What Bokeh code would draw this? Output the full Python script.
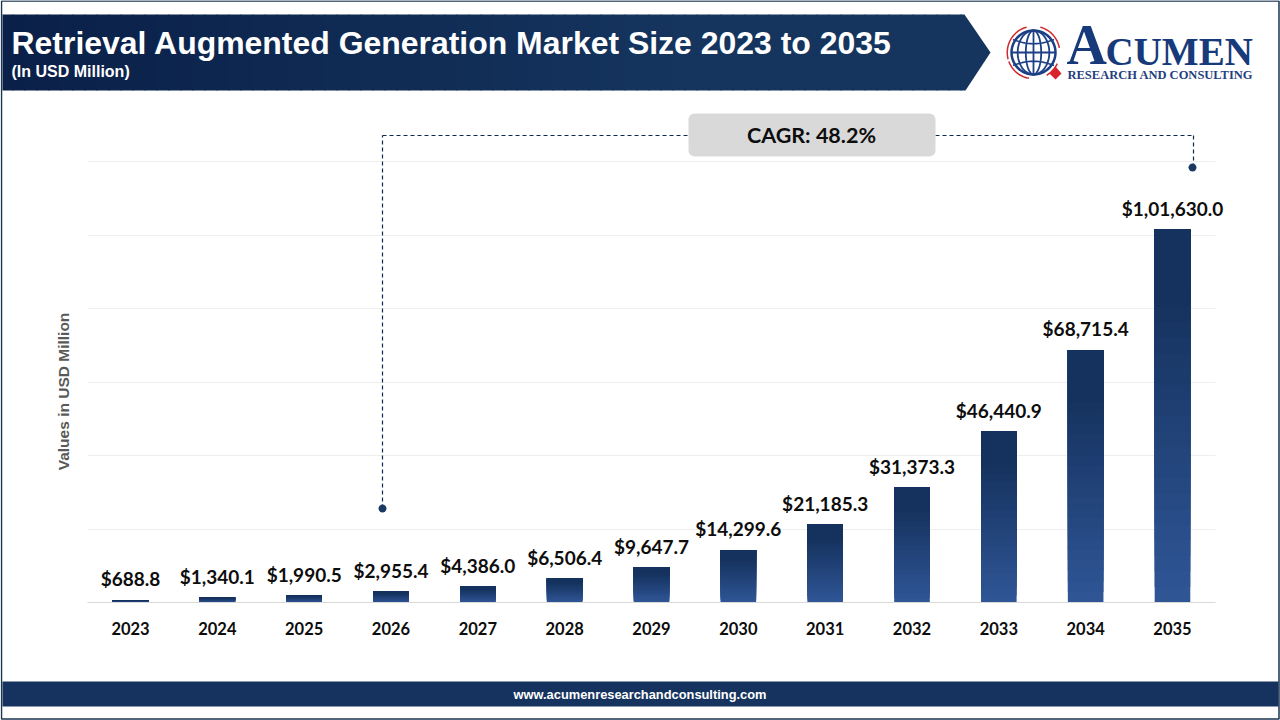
import math
from bokeh.plotting import figure
from bokeh.embed import file_html
from bokeh.resources import INLINE
from bokeh.models import (Range1d, FixedTicker, Label, BoxAnnotation, PolyAnnotation, Arrow,
                          ColumnDataSource)

years = ["2023","2024","2025","2026","2027","2028","2029","2030","2031","2032","2033","2034","2035"]
values = [688.8,1340.1,1990.5,2955.4,4386.0,6506.4,9647.7,14299.6,21185.3,31373.3,46440.9,68715.4,101630.0]
value_labels = ["$688.8","$1,340.1","$1,990.5","$2,955.4","$4,386.0","$6,506.4","$9,647.7","$14,299.6",
                "$21,185.3","$31,373.3","$46,440.9","$68,715.4","$1,01,630.0"]
y_ticks = [0,20000,40000,60000,80000,100000,120000]
title = "Retrieval Augmented Generation Market Size 2023 to 2035"
subtitle = "(In USD Million)"
y_title = "Values in USD Million"
cagr = "CAGR: 48.2%"
footer = "www.acumenresearchandconsulting.com"

NAVY = "#15335e"
W, H = 1280, 720
def lerp(c1, c2, t):
    a = [int(c1[i:i+2],16) for i in (1,3,5)]; b = [int(c2[i:i+2],16) for i in (1,3,5)]
    return "#%02x%02x%02x" % tuple(round(a[k]+(b[k]-a[k])*t) for k in range(3))

# The frame fills the whole page; the chart area is set by the ranges
PX_X0, PX_W = 86.6, 86.83
PX_Y0, PX_YS = 602.0, 441.0/120000
x_range = Range1d((0-PX_X0)/PX_W-0.5, (W-PX_X0)/PX_W-0.5)
y_range = Range1d((PX_Y0-H)/PX_YS, PX_Y0/PX_YS)

p = figure(width=W, height=H, output_backend="svg", toolbar_location=None,
           x_range=x_range, y_range=y_range,
           min_border=0, background_fill_color="white", border_fill_color="white", outline_line_color=None)
p.xgrid.visible = False

# axes
xa = p.xaxis[0]
xa.fixed_location = 0
xa.bounds = (-0.5,12.5)
xa.ticker = FixedTicker(ticks=list(range(len(years))))
xa.major_label_overrides = {i:y for i,y in enumerate(years)}
xa.major_tick_line_color = None
xa.minor_tick_line_color = None
xa.axis_line_color = "#d9d9d9"
xa.major_label_text_font = "Lato"
xa.major_label_text_font_style = "bold"
xa.major_label_text_font_size = "16.5px"
xa.major_label_text_color = "#0d0d0d"
xa.major_label_standoff = 13

ya = p.yaxis[0]
ya.fixed_location = -0.5
ya.bounds = (-5200,120000)
ya.ticker = FixedTicker(ticks=y_ticks)
ya.major_label_overrides = {v:"" for v in y_ticks}
ya.major_tick_line_color = None
ya.minor_tick_line_color = None
ya.axis_line_color = None
ya.axis_label = y_title
ya.axis_label_text_font = "Liberation Sans"
ya.axis_label_text_font_style = "bold"
ya.axis_label_text_font_size = "15.5px"
ya.axis_label_text_color = "#595959"
ya.axis_label_standoff = 10
yg = p.ygrid[0]
yg.cross_bounds = (-0.5,12.5)
yg.grid_line_color = "#eeeeee"

# bars with vertical gradient: nested slices from bottom to top of each bar
STEPS = 24
for s in range(STEPS):
    t = s/STEPS
    p.vbar(x=list(range(len(values))), width=0.41, bottom=[v*t for v in values], top=values,
           fill_color=lerp("#2f5595","#15325e",min(1,t*1.25)), line_color=None)

# value labels
src = ColumnDataSource(dict(x=list(range(len(values))), y=values, t=value_labels))
p.text(x="x", y="y", text="t", source=src, text_align="center", text_baseline="middle", y_offset=-21,
       text_font={"value":"Lato"}, text_font_style="bold", text_font_size="19px", text_color="#0d0d0d")

def box(l,t,r,b,fill,line=None,lw=1,**k):
    p.add_layout(BoxAnnotation(left=l,right=r,top=t,bottom=b,left_units="canvas",right_units="canvas",
        top_units="canvas",bottom_units="canvas",fill_color=fill,fill_alpha=1 if fill else 0,line_color=line,line_width=lw,
        line_alpha=1,level="overlay",**k))
def poly(xs,ys,fill,line=None,lw=1):
    p.add_layout(PolyAnnotation(xs=list(xs),ys=list(ys),xs_units="canvas",ys_units="canvas",
        fill_color=fill,fill_alpha=1 if fill else 0,line_color=line,line_width=lw,line_alpha=1,level="overlay"))
def label(x,y,text,font,size,color,style="bold",align="left",base="middle"):
    p.add_layout(Label(x=x,y=y,x_units="canvas",y_units="canvas",text=text,text_font=font,text_font_size=f"{size}px",
        text_font_style=style,text_color=color,text_align=align,text_baseline=base,level="overlay"))
def dash(x0,y0,x1,y1):
    p.add_layout(Arrow(x_start=x0,y_start=y0,x_end=x1,y_end=y1,start_units="canvas",end_units="canvas",
        end=None,line_color="#0f2a50",line_width=1.2,line_dash=[4,3],level="overlay"))

# header band with horizontal gradient and chevron tip
cols = ("#0a2048","#15355f")
for i in range(0,960,12):
    box(max(i,2),14,i+13,90,lerp(cols[0],cols[1],min(1,i/700)))
poly([964,990,965,960,960],[14,52,90,90,14],cols[1])
label(11,42,title,"Liberation Sans",31.95,"white")
label(11,71,subtitle,"Liberation Sans",16,"white")

# footer
box(2,681,1278,706,NAVY)
label(639.5,693.5,footer,"Liberation Sans",12.85,"white",align="center")

# CAGR callout
dash(382,508,382,135); dash(382,135,688,135); dash(935,135,1193,135); dash(1193,135,1193,167)
box(688,113,935,156,"#d9d9d9",border_radius=6)
label(811,134.5,cagr,"Lato",21.5,"#0d0d0d",align="center")
for cx,cy in ((382,508),(1192,167)):
    poly([cx+4*math.cos(a*math.pi/8) for a in range(16)],[cy+4*math.sin(a*math.pi/8) for a in range(16)],"#1b3a63")

# logo: globe
LB="#1c3f86"; RED="#d0282b"
gx,gy,gr=1033,52,22
N=48
circ=[2*math.pi*i/N for i in range(N)]
poly([gx+gr*math.cos(a) for a in circ],[gy+gr*math.sin(a) for a in circ],"white",LB,2.5)
for k in (0.35,0.72):
    poly([gx+gr*k*math.cos(a) for a in circ],[gy+gr*math.sin(a) for a in circ],None,LB,1.8)
poly([gx-gr,gx+gr],[gy,gy],None,LB,1.8)
poly([gx,gx],[gy-gr,gy+gr],None,LB,1.8)
for sgn in (-1,1):
    xs=[gx+gr*0.93*(-1+2*i/24) for i in range(25)]
    ys=[gy+sgn*(gr*0.62-gr*0.22*(1-((x-gx)/gr)**2)) for x in xs]
    poly(xs+xs[::-1],ys+ys[::-1],None,LB,1.6)
# red rotating arcs
for a0,a1 in ((165,255),(285,350),(25,60),(100,160)):
    rs=[math.radians(a0+(a1-a0)*i/20) for i in range(21)]
    xs=[gx+27*math.cos(a) for a in rs]+[gx+25.5*math.cos(a) for a in rs[::-1]]
    ys=[gy+27*math.sin(a) for a in rs]+[gy+25.5*math.sin(a) for a in rs[::-1]]
    poly(xs,ys,RED)
poly([1055,1061,1055,1049],[66,73,79,73],"#d8232a")
# logo: text
label(1066,44.5,"A","Liberation Serif",56,"#173a7a")
label(1105,51,"CUMEN","Liberation Serif",39,"#173a7a")
label(1067,74,"RESEARCH AND CONSULTING","Liberation Serif",12.5,"#1f4080")

# page border
box(1,0.5,1278.5,718.5,None,"#1a3550",1.5)

open("out.html","w").write(file_html(p, INLINE))
